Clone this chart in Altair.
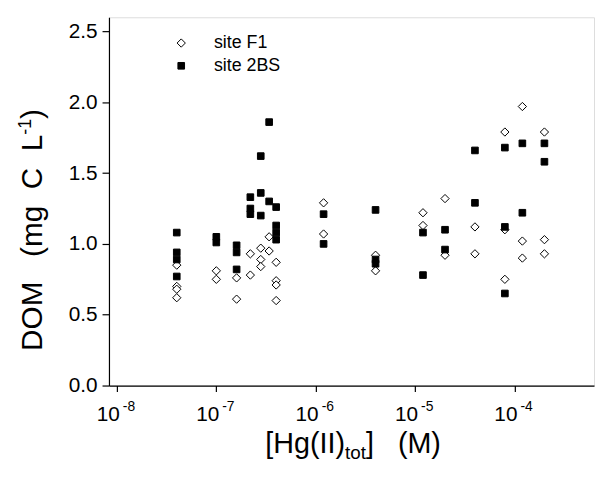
import altair as alt
import pandas as pd

# ---- data ----
f1_conc = [4e-8, 4e-8, 4e-8, 4e-8, 1e-7, 1e-7, 1.6e-7, 1.6e-7, 2.2e-7, 2.2e-7,
           2.8e-7, 2.8e-7, 2.8e-7, 3.4e-7, 3.4e-7, 4e-7, 4e-7, 4e-7, 4e-7,
           1.2e-6, 1.2e-6, 4e-6, 4e-6, 1.2e-5, 1.2e-5, 2e-5, 2e-5, 4e-5, 4e-5,
           8e-5, 8e-5, 8e-5, 1.2e-4, 1.2e-4, 1.2e-4, 2e-4, 2e-4, 2e-4]
f1_dom = [0.85, 0.70, 0.68, 0.62, 0.81, 0.75, 0.76, 0.61, 0.93, 0.78,
          0.97, 0.89, 0.84, 1.05, 0.95, 0.87, 0.74, 0.71, 0.60,
          1.29, 1.07, 0.92, 0.81, 1.22, 1.13, 1.32, 0.92, 1.12, 0.93,
          1.79, 1.10, 0.75, 1.97, 1.02, 0.90, 1.79, 1.03, 0.93]

bs_conc = [4e-8, 4e-8, 4e-8, 4e-8, 1e-7, 1e-7, 1.6e-7, 1.6e-7, 1.6e-7,
           2.2e-7, 2.2e-7, 2.2e-7, 2.8e-7, 2.8e-7, 2.8e-7, 3.4e-7, 3.4e-7,
           4e-7, 4e-7, 4e-7, 4e-7, 1.2e-6, 1.2e-6, 4e-6, 4e-6, 4e-6,
           1.2e-5, 1.2e-5, 2e-5, 2e-5, 4e-5, 4e-5, 8e-5, 8e-5, 8e-5,
           1.2e-4, 1.2e-4, 2e-4, 2e-4]
bs_dom = [1.08, 0.94, 0.89, 0.77, 1.05, 1.01, 0.99, 0.94, 0.82,
          1.33, 1.25, 1.21, 1.62, 1.36, 1.20, 1.86, 1.30,
          1.26, 1.13, 1.08, 1.03, 1.21, 1.00, 1.24, 0.89, 0.86,
          1.08, 0.78, 1.10, 0.96, 1.66, 1.29, 1.68, 1.12, 0.65,
          1.71, 1.22, 1.71, 1.58]

sites = ["site F1", "site 2BS"]
x_tick_values = [1e-8, 1e-7, 1e-6, 1e-5, 1e-4]
x_tick_exponents = ["-8", "-7", "-6", "-5", "-4"]
y_tick_values = [0.0, 0.5, 1.0, 1.5, 2.0, 2.5]

df = pd.DataFrame({
    "conc": f1_conc + bs_conc,
    "dom": f1_dom + bs_dom,
    "site": [sites[0]] * len(f1_conc) + [sites[1]] * len(bs_conc),
})
ticks_df = pd.DataFrame({"conc": x_tick_values, "exp": x_tick_exponents})

FONT = "Liberation Sans"
W, H = 490, 372
NB = "\u00a0"
SMALL_SQUARE = "M-0.8,-0.8L0.8,-0.8L0.8,0.8L-0.8,0.8Z"

xscale = alt.Scale(type="log", domain=[10 ** -8.08, 10 ** -3.2], nice=False)
yscale = alt.Scale(domain=[0, 2.6], nice=False, zero=False)

legend = alt.Legend(
    title=None, orient="none", legendX=64, legendY=17,
    labelFont=FONT, labelFontSize=18, labelColor="black",
    symbolSize=70, symbolStrokeColor="black", symbolStrokeWidth=1,
    labelOffset=24, rowPadding=5, symbolOpacity=1,
)

points = alt.Chart(df).mark_point(filled=True, strokeWidth=1, opacity=1, size=70).encode(
    x=alt.X("conc:Q", scale=xscale,
            axis=alt.Axis(values=x_tick_values, labels=False, ticks=True, tickSize=6,
                          tickColor="black", domainColor="black", domainWidth=1.2, tickWidth=1.2,
                          grid=False, title=None)),
    y=alt.Y("dom:Q", scale=yscale,
            axis=alt.Axis(values=y_tick_values, format=".1f", labelFont=FONT, labelFontSize=21,
                          labelColor="black", tickSize=7, tickColor="black", domainColor="black",
                          domainWidth=1.2, tickWidth=1.2, labelPadding=5, grid=False, title=None)),
    shape=alt.Shape("site:N", scale=alt.Scale(domain=sites, range=["diamond", SMALL_SQUARE]), legend=legend),
    fill=alt.Fill("site:N", scale=alt.Scale(domain=sites, range=["white", "black"]), legend=legend),
    stroke=alt.Stroke("site:N", scale=alt.Scale(domain=sites, range=["black", "black"]), legend=legend),
)

# x tick labels: "10" with a raised exponent
base_labels = alt.Chart(ticks_df).mark_text(
    font=FONT, fontSize=21, align="right", baseline="middle", color="black", dx=3
).encode(x=alt.X("conc:Q", scale=xscale), y=alt.value(H + 30), text=alt.value("10"))

exp_labels = alt.Chart(ticks_df).mark_text(
    font=FONT, fontSize=14, align="left", baseline="middle", color="black", dx=6
).encode(x=alt.X("conc:Q", scale=xscale), y=alt.value(H + 22), text="exp:N")

def tw(s, fs):
    widths = {"[": 278, "H": 722, "g": 556, "(": 333, "I": 278, ")": 333, "t": 278,
              "o": 556, "]": 278, " ": 278, NB: 278, "M": 833, "D": 722, "O": 778,
              "m": 833, "C": 722, "L": 556, "-": 333, "1": 556}
    return sum(widths[c] for c in s) * fs / 1000.0

def piece(txt, fs, x, y, angle=0):
    return alt.Chart(pd.DataFrame({"t": [txt]})).mark_text(
        font=FONT, fontSize=fs, align="left", baseline="alphabetic", color="black", angle=angle
    ).encode(x=alt.value(x), y=alt.value(y), text="t:N")

# x axis title (subscript "tot")
TF, TS = 29, 19
xt1, xt2, xt3 = "[Hg(II)", "tot", "]" + NB + NB + NB + "(M)"
x0 = 158
xtitle = [
    piece(xt1, TF, x0, H + 68),
    piece(xt2, TS, x0 + tw(xt1, TF), H + 74),
    piece(xt3, TF, x0 + tw(xt1, TF) + tw(xt2, TS), H + 68),
]

# y axis title (superscript "-1"), rotated
YF, YS = 30, 18
yt1 = "DOM" + NB + NB + NB + "(mg" + NB + NB + "C" + NB + NB + "L"
yt2, yt3 = "-1", ")"
y0 = 337
ytitle = [
    piece(yt1, YF, -68, y0, 270),
    piece(yt2, YS, -79, y0 - tw(yt1, YF), 270),
    piece(yt3, YF, -68, y0 - tw(yt1, YF) - tw(yt2, YS), 270),
]

chart = alt.layer(points, base_labels, exp_labels, *xtitle, *ytitle).properties(
    width=W, height=H,
    autosize=alt.AutoSizeParams(type="none"),
    padding={"left": 102, "top": 7, "right": 2, "bottom": 90},
).configure_view(stroke=None).configure(background="white")

chart.save("out.html", embed_options={"renderer": "svg", "actions": False})
